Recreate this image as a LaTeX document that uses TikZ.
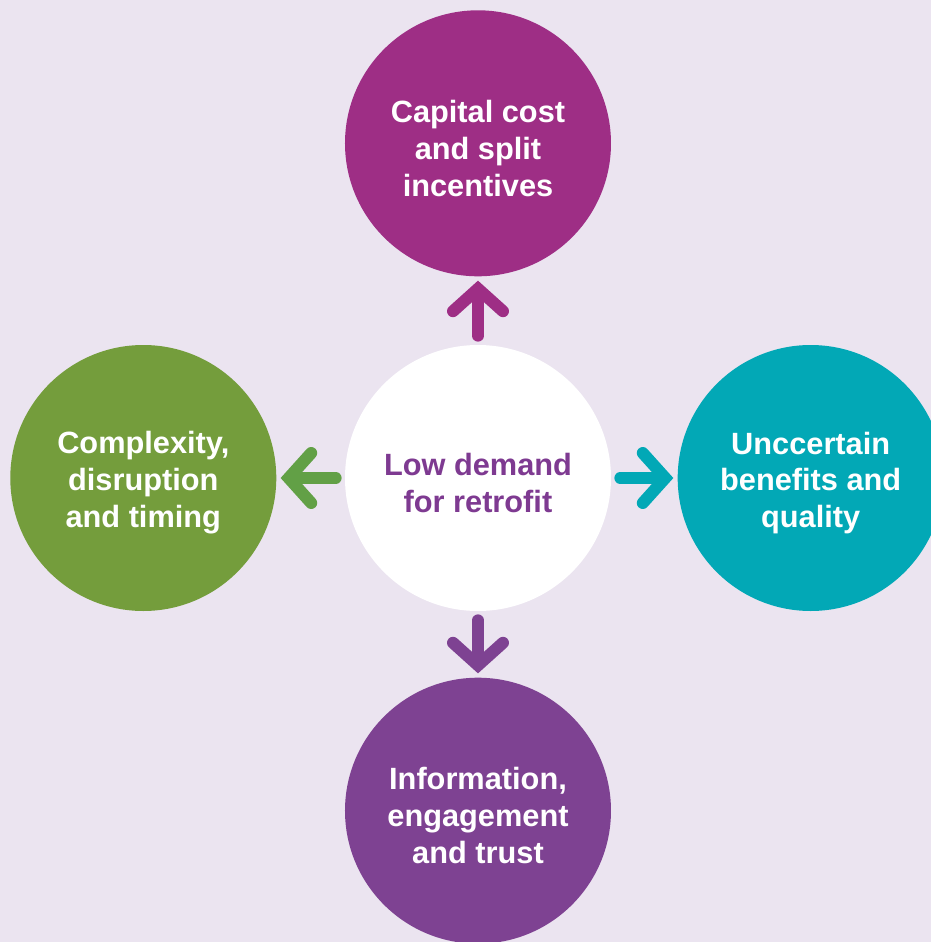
\documentclass[tikz,border=0pt]{standalone}
\usepackage{fontspec}
\setmainfont{Liberation Sans}
\usetikzlibrary{arrows.meta,positioning}
\definecolor{bgpale}{RGB}{235,228,240}
\definecolor{capcol}{RGB}{158,46,133}
\definecolor{cpxcol}{RGB}{116,157,60}
\definecolor{cpxarrow}{RGB}{98,160,70}
\definecolor{unccol}{RGB}{2,168,182}
\definecolor{infocol}{RGB}{126,66,146}
\definecolor{hubtext}{RGB}{126,58,145}
\tikzset{
  issue/.style={circle,fill=#1,minimum size=5.32cm,inner sep=0pt},
  caption/.style={text=white,align=center,yshift=-0.1cm,
    font=\bfseries\fontsize{17.5}{21}\selectfont},
  flow/.style={draw=#1,line width=0.24cm,line cap=round,shorten <=0.18cm,shorten >=0.08cm,
    -{Straight Barb[length=0.45cm,width=1.0cm,line cap=round,line join=miter]}}
}
\begin{document}
\begin{tikzpicture}
\clip (-9.56,-9.28) rectangle (9.06,9.56);
\fill[bgpale] (-9.56,-9.28) rectangle (9.06,9.56);

% hub and the four barriers around it
\node[issue=white] (hub) at (0,0) {};
\node[issue=capcol,above=1.36cm of hub] (cap) {};
\node[issue=cpxcol,left=1.36cm of hub] (cpx) {};
\node[issue=unccol,right=1.32cm of hub] (unc) {};
\node[issue=infocol,below=1.32cm of hub] (info) {};

\node[caption,text=hubtext] (hubtxt) at (hub) {Low demand\\for retrofit};
\node[caption] (captxt) at (cap) {Capital cost\\and split\\incentives};
\node[caption] (cpxtxt) at (cpx) {Complexity,\\disruption\\and timing};
\node[caption] (unctxt) at (unc) {Unccertain\\benefits and\\quality};
\node[caption] (infotxt) at (info) {Information,\\engagement\\and trust};

% arrows out of the hub
\draw[flow=capcol] (hub) -- (cap);
\draw[flow=cpxarrow] (hub) -- (cpx);
\draw[flow=unccol] (hub) -- (unc);
\draw[flow=infocol] (hub) -- (info);
\end{tikzpicture}
\end{document}
